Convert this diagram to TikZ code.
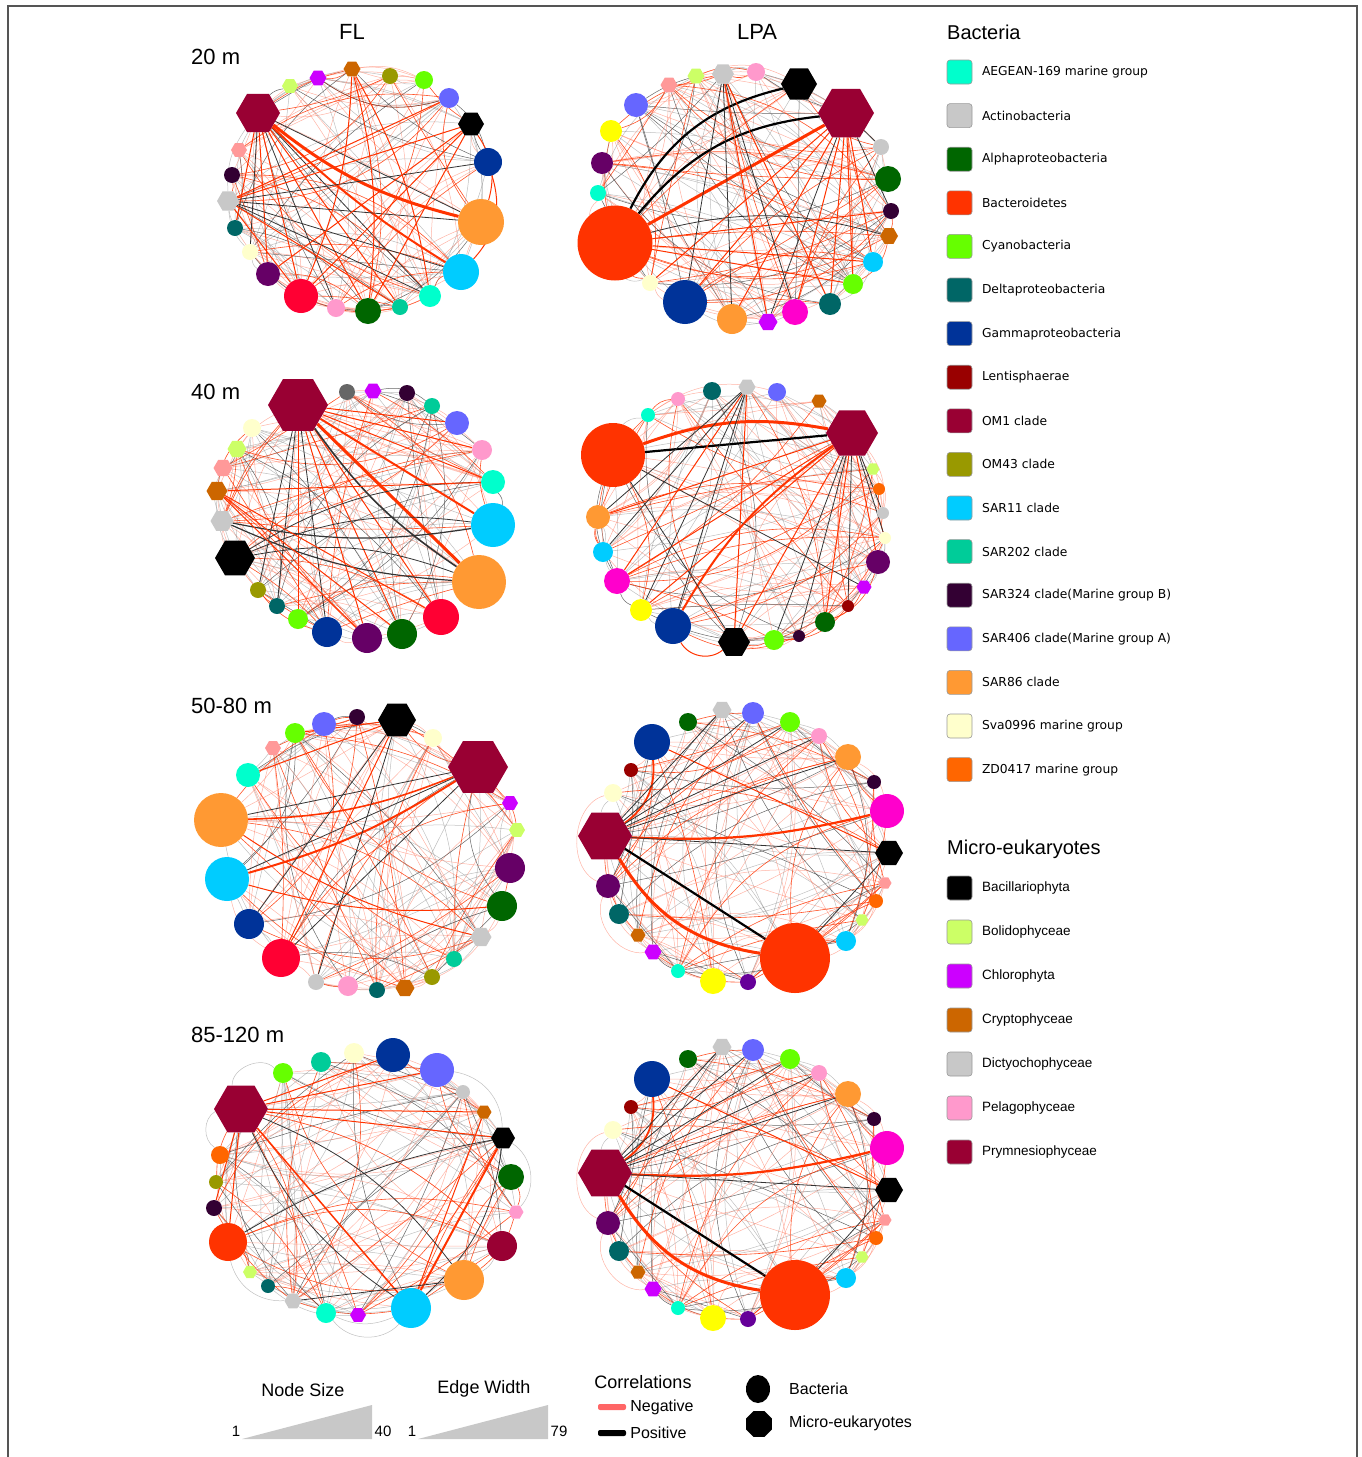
\documentclass[tikz,border=0pt]{standalone}
\usepackage{fontspec}
\setmainfont{Liberation Sans}
\newfontfamily\verdanafont{DejaVu Sans}
\usetikzlibrary{positioning}
\usetikzlibrary{shapes}

% taxon colours
\definecolor{aegean}{HTML}{00FFCC}
\definecolor{actino}{HTML}{C8C8C8}
\definecolor{alpha}{HTML}{006600}
\definecolor{bactero}{HTML}{FF3300}
\definecolor{cyano}{HTML}{66FF00}
\definecolor{delta}{HTML}{006666}
\definecolor{gamma}{HTML}{003399}
\definecolor{lentis}{HTML}{990000}
\definecolor{omone}{HTML}{990033}
\definecolor{om43}{HTML}{999900}
\definecolor{sar11}{HTML}{00CCFF}
\definecolor{sar202}{HTML}{00CC99}
\definecolor{sar324}{HTML}{330033}
\definecolor{sar406}{HTML}{6666FF}
\definecolor{sar86}{HTML}{FF9933}
\definecolor{sva}{HTML}{FFFFCC}
\definecolor{zd}{HTML}{FF6600}
\definecolor{bolido}{HTML}{CCFF66}
\definecolor{chloro}{HTML}{CC00FF}
\definecolor{crypto}{HTML}{CC6600}
\definecolor{dictyo}{HTML}{C8C8C8}
\definecolor{pelago}{HTML}{FF99CC}
\definecolor{prym}{HTML}{990033}
\definecolor{crimson}{HTML}{FF0033}
\definecolor{plum}{HTML}{660066}
\definecolor{salmon}{HTML}{FF9999}
\definecolor{magenta}{HTML}{FF00CC}
\definecolor{yellow}{HTML}{FFFF00}
\definecolor{darkgrey}{HTML}{666666}
\definecolor{violet}{HTML}{660099}
\definecolor{negline}{HTML}{FF6A4D}
\definecolor{frameline}{HTML}{555555}

\pgfdeclarelayer{edges}
\pgfsetlayers{edges,main}

\tikzset{
        % Bacteria nodes
        bact/.style={circle, inner sep=0pt, minimum size=#1},
        % Micro-eukaryote nodes
        euk/.style={regular polygon, regular polygon sides=6, inner sep=0pt, minimum size=#1},
        % Correlation edges
        negthin/.style={draw=negline, line width=0.5pt, opacity=0.5},
        posthin/.style={draw=gray, line width=0.5pt, opacity=0.5},
        neglight/.style={draw=bactero, line width=0.6pt, opacity=0.85},
        poslight/.style={draw=black!75, line width=0.5pt, opacity=0.8},
        negmid/.style={draw=bactero, line width=1pt},
        posmid/.style={draw=black!80, line width=0.8pt},
        negfat/.style={draw=bactero, line width=3pt},
        posfat/.style={draw=black, line width=2.2pt},
        % Texts
        panel_title/.style={font=\fontsize{22}{26}\selectfont, inner sep=0pt},
        legend_head/.style={font=\fontsize{20}{24}\selectfont, inner sep=0pt, anchor=west},
        legend_bact/.style={font=\verdanafont\fontsize{12.3}{14}\selectfont, inner sep=0pt},
        legend_euk/.style={font=\fontsize{13.5}{16}\selectfont, inner sep=0pt},
        legend_key/.style={font=\fontsize{18}{22}\selectfont, inner sep=0pt},
        legend_num/.style={font=\fontsize{15}{18}\selectfont, inner sep=0pt},
        swatch/.style={rectangle, rounded corners=3pt, draw=gray!80, line width=0.6pt, minimum width=25pt, minimum height=24pt, inner sep=0pt},
        corr_bar/.style={rectangle, rounded corners=2pt, minimum width=28pt, minimum height=6pt, inner sep=0pt}
}

\begin{document}
\begin{tikzpicture}[x=1pt, y=-1pt]
    \useasboundingbox (0,0) rectangle (1362,1457);
    \draw[frameline, line width=1.2pt] (8,1457) -- (8,6) -- (1357,6) -- (1357,1457);

    % column and depth titles
    \node[panel_title] (fl) at (352,32) {FL};
    \node[panel_title] (lpa) at (757,32) {LPA};
    \node[panel_title, anchor=west] (d20) at (191,57) {20 m};
    \node[panel_title, anchor=west] (d40) at (191,392) {40 m};
    \node[panel_title, anchor=west] (d50) at (191,706) {50-80 m};
    \node[panel_title, anchor=west] (d85) at (191,1035) {85-120 m};

    % 20 m FL
    \node[euk=44, fill=prym] (fa1) at (258,113) {};
    \node[euk=16, fill=bolido] (fa2) at (290,86) {};
    \node[euk=17, fill=chloro] (fa3) at (318,78) {};
    \node[euk=17, fill=crypto] (fa4) at (352,69) {};
    \node[bact=16, fill=om43] (fa5) at (390,76) {};
    \node[bact=18, fill=cyano] (fa6) at (424,80) {};
    \node[bact=20, fill=sar406] (fa7) at (449,98) {};
    \node[euk=26, fill=black] (fa8) at (471,124) {};
    \node[bact=28, fill=gamma] (fa9) at (488,162) {};
    \node[bact=46, fill=sar86] (fa10) at (481,222) {};
    \node[bact=36, fill=sar11] (fa11) at (461,272) {};
    \node[bact=22, fill=aegean] (fa12) at (430,296) {};
    \node[bact=16, fill=sar202] (fa13) at (400,307) {};
    \node[bact=26, fill=alpha] (fa14) at (368,311) {};
    \node[bact=18, fill=pelago] (fa15) at (336,308) {};
    \node[bact=34, fill=crimson] (fa16) at (301,296) {};
    \node[bact=24, fill=plum] (fa17) at (268,274) {};
    \node[bact=16, fill=sva] (fa18) at (250,252) {};
    \node[bact=16, fill=delta] (fa19) at (235,228) {};
    \node[euk=22, fill=dictyo] (fa20) at (228,201) {};
    \node[bact=16, fill=sar324] (fa21) at (232,175) {};
    \node[euk=16, fill=salmon] (fa22) at (239,150) {};

    % 20 m LPA
    \node[bact=75, fill=bactero] (la1) at (615,243) {};
    \node[bact=16, fill=aegean] (la2) at (598,193) {};
    \node[bact=22, fill=plum] (la3) at (602,163) {};
    \node[bact=22, fill=yellow] (la4) at (611,131) {};
    \node[bact=24, fill=sar406] (la5) at (636,105) {};
    \node[euk=17, fill=salmon] (la6) at (669,85) {};
    \node[euk=17, fill=bolido] (la7) at (696,76) {};
    \node[euk=22, fill=dictyo] (la8) at (723,74) {};
    \node[bact=18, fill=pelago] (la9) at (756,72) {};
    \node[euk=36, fill=black] (la10) at (799,84) {};
    \node[euk=56, fill=prym] (la11) at (846,113) {};
    \node[bact=16, fill=actino] (la12) at (881,147) {};
    \node[bact=26, fill=alpha] (la13) at (888,179) {};
    \node[bact=16, fill=sar324] (la14) at (891,211) {};
    \node[euk=18, fill=crypto] (la15) at (889,236) {};
    \node[bact=20, fill=sar11] (la16) at (873,262) {};
    \node[bact=20, fill=cyano] (la17) at (853,284) {};
    \node[bact=22, fill=delta] (la18) at (830,304) {};
    \node[bact=26, fill=magenta] (la19) at (795,312) {};
    \node[euk=19, fill=chloro] (la20) at (768,322) {};
    \node[bact=30, fill=sar86] (la21) at (732,319) {};
    \node[bact=44, fill=gamma] (la22) at (685,302) {};
    \node[bact=16, fill=sva] (la23) at (650,283) {};

    % 40 m FL
    \node[euk=60, fill=prym] (fb1) at (298,405) {};
    \node[bact=16, fill=darkgrey] (fb2) at (347,392) {};
    \node[euk=17, fill=chloro] (fb3) at (373,391) {};
    \node[bact=16, fill=sar324] (fb4) at (407,393) {};
    \node[bact=16, fill=sar202] (fb5) at (432,406) {};
    \node[bact=24, fill=sar406] (fb6) at (457,423) {};
    \node[bact=20, fill=pelago] (fb7) at (482,450) {};
    \node[bact=24, fill=aegean] (fb8) at (493,482) {};
    \node[bact=44, fill=sar11] (fb9) at (493,525) {};
    \node[bact=54, fill=sar86] (fb10) at (479,582) {};
    \node[bact=36, fill=crimson] (fb11) at (441,617) {};
    \node[bact=30, fill=alpha] (fb12) at (402,634) {};
    \node[bact=30, fill=plum] (fb13) at (367,638) {};
    \node[bact=30, fill=gamma] (fb14) at (327,632) {};
    \node[bact=20, fill=cyano] (fb15) at (298,619) {};
    \node[bact=16, fill=delta] (fb16) at (277,606) {};
    \node[bact=16, fill=om43] (fb17) at (258,590) {};
    \node[euk=40, fill=black] (fb18) at (235,558) {};
    \node[euk=23, fill=dictyo] (fb19) at (222,521) {};
    \node[euk=21, fill=crypto] (fb20) at (217,491) {};
    \node[euk=19, fill=salmon] (fb21) at (223,468) {};
    \node[euk=19, fill=bolido] (fb22) at (237,449) {};
    \node[bact=18, fill=sva] (fb23) at (252,428) {};

    % 40 m LPA
    \node[bact=64, fill=bactero] (lb1) at (613,455) {};
    \node[bact=14, fill=aegean] (lb2) at (648,415) {};
    \node[bact=14, fill=pelago] (lb3) at (678,399) {};
    \node[bact=18, fill=delta] (lb4) at (712,391) {};
    \node[euk=17, fill=dictyo] (lb5) at (747,387) {};
    \node[bact=18, fill=sar406] (lb6) at (777,392) {};
    \node[euk=15, fill=crypto] (lb7) at (819,401) {};
    \node[euk=52, fill=prym] (lb8) at (852,433) {};
    \node[euk=13, fill=bolido] (lb9) at (873,469) {};
    \node[bact=12, fill=zd] (lb10) at (879,489) {};
    \node[bact=12, fill=actino] (lb11) at (883,513) {};
    \node[bact=12, fill=sva] (lb12) at (885,538) {};
    \node[bact=24, fill=plum] (lb13) at (878,562) {};
    \node[euk=15, fill=chloro] (lb14) at (864,587) {};
    \node[bact=12, fill=lentis] (lb15) at (848,606) {};
    \node[bact=20, fill=alpha] (lb16) at (825,622) {};
    \node[bact=12, fill=sar324] (lb17) at (799,636) {};
    \node[bact=20, fill=cyano] (lb18) at (774,640) {};
    \node[euk=32, fill=black] (lb19) at (734,642) {};
    \node[bact=36, fill=gamma] (lb20) at (673,626) {};
    \node[bact=22, fill=yellow] (lb21) at (641,610) {};
    \node[bact=26, fill=magenta] (lb22) at (617,581) {};
    \node[bact=20, fill=sar11] (lb23) at (603,552) {};
    \node[bact=24, fill=sar86] (lb24) at (598,517) {};

    % 50-80 m FL
    \node[euk=38, fill=black] (fc1) at (397,720) {};
    \node[bact=18, fill=sva] (fc2) at (433,738) {};
    \node[euk=60, fill=prym] (fc3) at (478,767) {};
    \node[euk=16, fill=chloro] (fc4) at (510,803) {};
    \node[euk=16, fill=bolido] (fc5) at (517,830) {};
    \node[bact=30, fill=plum] (fc6) at (510,868) {};
    \node[bact=30, fill=alpha] (fc7) at (502,906) {};
    \node[euk=21, fill=dictyo] (fc8) at (481,937) {};
    \node[bact=16, fill=sar202] (fc9) at (454,959) {};
    \node[bact=16, fill=om43] (fc10) at (432,977) {};
    \node[euk=19, fill=crypto] (fc11) at (405,988) {};
    \node[bact=16, fill=delta] (fc12) at (377,990) {};
    \node[bact=20, fill=pelago] (fc13) at (348,986) {};
    \node[bact=16, fill=actino] (fc14) at (316,982) {};
    \node[bact=38, fill=crimson] (fc15) at (281,958) {};
    \node[bact=30, fill=gamma] (fc16) at (249,924) {};
    \node[bact=44, fill=sar11] (fc17) at (227,879) {};
    \node[bact=54, fill=sar86] (fc18) at (221,820) {};
    \node[bact=24, fill=aegean] (fc19) at (248,775) {};
    \node[euk=16, fill=salmon] (fc20) at (273,748) {};
    \node[bact=20, fill=cyano] (fc21) at (295,733) {};
    \node[bact=24, fill=sar406] (fc22) at (324,724) {};
    \node[bact=16, fill=sar324] (fc23) at (357,717) {};

    % 50-80 m and 85-120 m LPA
    \foreach \p/\dy in {lc/0, ld/337} {
        \begin{scope}[yshift=-\dy pt]
            \node[euk=54, fill=prym] (\p1) at (605,836) {};
            \node[bact=18, fill=sva] (\p2) at (613,793) {};
            \node[bact=14, fill=lentis] (\p3) at (631,770) {};
            \node[bact=36, fill=gamma] (\p4) at (652,742) {};
            \node[bact=18, fill=alpha] (\p5) at (688,722) {};
            \node[euk=19, fill=dictyo] (\p6) at (722,710) {};
            \node[bact=22, fill=sar406] (\p7) at (753,713) {};
            \node[bact=20, fill=cyano] (\p8) at (790,722) {};
            \node[bact=16, fill=pelago] (\p9) at (819,736) {};
            \node[bact=26, fill=sar86] (\p10) at (848,757) {};
            \node[bact=14, fill=sar324] (\p11) at (874,782) {};
            \node[bact=34, fill=magenta] (\p12) at (887,811) {};
            \node[euk=28, fill=black] (\p13) at (889,853) {};
            \node[euk=13, fill=salmon] (\p14) at (885,883) {};
            \node[bact=14, fill=zd] (\p15) at (876,901) {};
            \node[euk=13, fill=bolido] (\p16) at (862,920) {};
            \node[bact=20, fill=sar11] (\p17) at (846,941) {};
            \node[bact=70, fill=bactero] (\p18) at (795,958) {};
            \node[bact=16, fill=violet] (\p19) at (748,982) {};
            \node[bact=26, fill=yellow] (\p20) at (713,981) {};
            \node[bact=14, fill=aegean] (\p21) at (678,971) {};
            \node[euk=17, fill=chloro] (\p22) at (653,952) {};
            \node[euk=15, fill=crypto] (\p23) at (638,935) {};
            \node[bact=20, fill=delta] (\p24) at (619,914) {};
            \node[bact=24, fill=plum] (\p25) at (608,886) {};
        \end{scope}
    }

    % 85-120 m FL
    \node[euk=54, fill=prym] (fd1) at (241,1109) {};
    \node[bact=20, fill=cyano] (fd2) at (283,1073) {};
    \node[bact=20, fill=sar202] (fd3) at (321,1062) {};
    \node[bact=20, fill=sva] (fd4) at (354,1053) {};
    \node[bact=34, fill=gamma] (fd5) at (393,1055) {};
    \node[bact=34, fill=sar406] (fd6) at (437,1070) {};
    \node[bact=14, fill=actino] (fd7) at (463,1092) {};
    \node[euk=15, fill=crypto] (fd8) at (484,1112) {};
    \node[euk=24, fill=black] (fd9) at (503,1138) {};
    \node[bact=26, fill=alpha] (fd10) at (511,1177) {};
    \node[euk=15, fill=pelago] (fd11) at (516,1212) {};
    \node[bact=30, fill=omone] (fd12) at (502,1246) {};
    \node[bact=40, fill=sar86] (fd13) at (464,1280) {};
    \node[bact=40, fill=sar11] (fd14) at (411,1308) {};
    \node[euk=16, fill=chloro] (fd15) at (358,1315) {};
    \node[bact=20, fill=aegean] (fd16) at (326,1313) {};
    \node[euk=17, fill=dictyo] (fd17) at (293,1301) {};
    \node[bact=14, fill=delta] (fd18) at (268,1286) {};
    \node[euk=14, fill=bolido] (fd19) at (250,1272) {};
    \node[bact=38, fill=bactero] (fd20) at (228,1242) {};
    \node[bact=16, fill=sar324] (fd21) at (214,1208) {};
    \node[bact=14, fill=om43] (fd22) at (216,1182) {};
    \node[bact=18, fill=zd] (fd23) at (220,1155) {};

    \begin{pgfonlayer}{edges}
        % background correlations
        \foreach \p/\N/\s in {fa/22/3, la/23/5, fb/23/7, lb/24/9, fc/23/11, lc/25/13, ld/25/13, fd/23/17} {
            \pgfmathsetseed{\s}
            \foreach \i in {1,...,\N} \foreach \k in {1,...,7} {
                \pgfmathrandominteger{\rj}{1}{\N}
                \pgfmathrandominteger{\rc}{0}{9}
                \pgfmathrandominteger{\rb}{-25}{25}
                \ifnum\rj=\i\relax\else
                    \ifcase\rc
                        \draw[negthin] (\p\i) to[bend left=\rb] (\p\rj);
                    \or \draw[negthin] (\p\i) to[bend left=\rb] (\p\rj);
                    \or \draw[negthin] (\p\i) to[bend left=\rb] (\p\rj);
                    \or \draw[negthin] (\p\i) to[bend left=\rb] (\p\rj);
                    \or \draw[posthin] (\p\i) to[bend left=\rb] (\p\rj);
                    \or \draw[posthin] (\p\i) to[bend left=\rb] (\p\rj);
                    \or \draw[posthin] (\p\i) to[bend left=\rb] (\p\rj);
                    \or \draw[neglight] (\p\i) to[bend left=\rb] (\p\rj);
                    \or \draw[neglight] (\p\i) to[bend left=\rb] (\p\rj);
                    \else \draw[poslight] (\p\i) to[bend left=\rb] (\p\rj);
                    \fi
                \fi
            }
        }

        % 20 m FL
        \foreach \t in {13,14,16,19,17} \draw[negmid] (fa1) -- (fa\t);
        \foreach \t in {12,15,18} \draw[posmid] (fa1) -- (fa\t);
        \draw[negfat] (fa1) to[bend right=12] (fa10);
        \draw[posmid] (fa1) -- (fa10);
        \draw[negfat, line width=2pt] (fa1) to[bend right=6] (fa11);
        \foreach \t in {9,10,11,12} \draw[posmid] (fa20) -- (fa\t);
        \foreach \t in {7,13,16} \draw[negmid] (fa20) -- (fa\t);
        \foreach \t in {14,16,17,20} \draw[negmid] (fa8) -- (fa\t);
        \foreach \t in {12,14,16} \draw[negmid] (fa4) to[bend left=10] (fa\t);
        \draw[negmid] (fa8) to[bend left=25] (fa10);
        \draw[negmid] (fa9) to[bend left=30] (fa11);

        % 20 m LPA
        \draw[negfat] (la1) -- (la11);
        \draw[posfat] (la1) to[bend left=25] (la10);
        \draw[posfat] (la1) to[bend left=22] (la11);
        \foreach \t in {16,17,18,19,21,22,23} \draw[negmid] (la11) -- (la\t);
        \foreach \t in {12,14,20} \draw[posmid] (la11) -- (la\t);
        \draw[posmid] (la1) to[bend left=15] (la15);
        \foreach \t in {14,16,17} \draw[negmid] (la1) -- (la\t);
        \foreach \t in {19,21,22} \draw[posmid] (la8) -- (la\t);
        \foreach \t in {18,20} \draw[negmid] (la8) -- (la\t);

        % 40 m FL
        \draw[negfat] (fb1) -- (fb10);
        \draw[negfat, line width=2pt] (fb1) -- (fb9);
        \foreach \t in {6,7,8,11,12,13,15} \draw[negmid] (fb1) -- (fb\t);
        \foreach \t in {14,16,17} \draw[posmid] (fb1) -- (fb\t);
        \draw[posmid, line width=1.6pt] (fb1) to[bend right=10] (fb10);
        \foreach \t in {9,10} \draw[posmid, line width=1.2pt] (fb19) to[bend right=10] (fb\t);
        \foreach \t in {8,9,10} \draw[posmid] (fb18) to[bend left=15] (fb\t);
        \foreach \t in {8,11,12,13} \draw[negmid] (fb20) -- (fb\t);

        % 40 m LPA
        \draw[negfat] (lb1) to[bend left=15] (lb8);
        \draw[posfat] (lb1) -- (lb8);
        \draw[negfat, line width=2pt] (lb20) to[bend left=12] (lb8);
        \draw[posmid] (lb1) -- (lb19);
        \draw[posmid] (lb1) -- (lb14);
        \draw[negmid] (lb20) to[bend right=50] (lb19);
        \foreach \t in {13,16,19,21,22,24} \draw[negmid] (lb8) -- (lb\t);
        \foreach \t in {11,12,15,17,18} \draw[posmid] (lb8) -- (lb\t);
        \foreach \t in {20,21,23,24} \draw[posmid] (lb5) -- (lb\t);
        \foreach \t in {19,22} \draw[negmid] (lb5) -- (lb\t);

        % 50-80 m FL
        \draw[negmid, line width=2pt] (fc3) to[bend left=8] (fc17);
        \draw[negmid, line width=1.6pt] (fc3) to[bend left=10] (fc18);
        \foreach \t in {15,17,18} \draw[posmid] (fc3) -- (fc\t);
        \foreach \t in {14,16} \draw[posmid] (fc1) -- (fc\t);
        \foreach \t in {15,19,21} \draw[negmid] (fc1) -- (fc\t);
        \draw[negmid] (fc18) to[bend right=10] (fc8);
        \draw[negmid] (fc17) to[bend right=10] (fc7);

        % 50-80 m and 85-120 m LPA
        \foreach \p in {lc,ld} {
            \draw[negfat] (\p1) to[bend right=25] (\p18);
            \draw[posfat] (\p1) -- (\p18);
            \draw[negmid, line width=2.2pt] (\p1) to[bend right=8] (\p12);
            \draw[negmid, line width=1.8pt] (\p1) to[bend right=30] (\p4);
            \draw[negmid] (\p4) -- (\p13);
            \foreach \t in {6,7,8,9,10,13} \draw[posmid] (\p1) -- (\p\t);
            \draw[posmid] (\p18) -- (\p13);
            \draw[negthin] (\p2) to[bend right=70] (\p25);
            \draw[negthin] (\p25) to[bend right=60] (\p22);
            \draw[negthin] (\p18) to[bend right=50] (\p20);
        }

        % 85-120 m FL
        \draw[negmid, line width=1.5pt] (fd1) -- (fd14);
        \draw[negmid, line width=2pt] (fd9) -- (fd14);
        \draw[negmid] (fd8) -- (fd14);
        \draw[posmid] (fd1) to[bend left=15] (fd13);
        \draw[posmid] (fd1) to[bend right=15] (fd14);
        \draw[posmid] (fd9) to[bend right=10] (fd20);
        \draw[posmid] (fd17) -- (fd13);
        \draw[posmid] (fd9) to[bend left=20] (fd14);
        \foreach \t in {5,6,8,9,20,21} \draw[negmid] (fd1) -- (fd\t);
        \draw[posthin] (fd1) to[bend right=60] (fd23);
        \draw[posthin] (fd2) to[bend right=70] (fd1);
        \draw[posthin] (fd6) to[bend left=40] (fd9);
        \draw[posthin] (fd9) to[bend left=50] (fd11);
        \draw[posthin] (fd14) to[bend left=50] (fd16);
        \draw[posthin] (fd20) to[bend right=40] (fd17);
    \end{pgfonlayer}

    % legend: bacteria
    \node[legend_head] (bact_head) at (947,32) {Bacteria};
    \foreach \col/\name [count=\n from 0] in {aegean/AEGEAN-169 marine group, actino/Actinobacteria, alpha/Alphaproteobacteria, bactero/Bacteroidetes, cyano/Cyanobacteria, delta/Deltaproteobacteria, gamma/Gammaproteobacteria, lentis/Lentisphaerae, omone/OM1 clade, om43/OM43 clade, sar11/SAR11 clade, sar202/SAR202 clade, sar324/SAR324 clade(Marine group B), sar406/SAR406 clade(Marine group A), sar86/SAR86 clade, sva/Sva0996 marine group, zd/ZD0417 marine group} {
        \node[swatch, fill=\col] (bsw\n) at (959.5,72+43.6*\n) {};
        \node[legend_bact, right=9.5pt of bsw\n] (btx\n) {\name};
    }

    % legend: micro-eukaryotes
    \node[legend_head] (euk_head) at (947,849) {Micro-eukaryotes};
    \foreach \col/\name [count=\n from 0] in {black/Bacillariophyta, bolido/Bolidophyceae, chloro/Chlorophyta, crypto/Cryptophyceae, dictyo/Dictyochophyceae, pelago/Pelagophyceae, prym/Prymnesiophyceae} {
        \node[swatch, fill=\col] (esw\n) at (959.5,888+44*\n) {};
        \node[legend_euk, right=9.5pt of esw\n] (etx\n) {\name};
    }

    % legend: sizes
    \node[legend_key] (node_size) at (303,1390) {Node Size};
    \fill[actino] (242,1439) -- (372,1439) -- (372,1405) -- cycle;
    \node[legend_num] (ns_min) at (236,1431) {1};
    \node[legend_num] (ns_max) at (383,1431) {40};
    \node[legend_key] (edge_width) at (484,1389) {Edge Width};
    \fill[actino] (418,1439) -- (548,1439) -- (548,1405) -- cycle;
    \node[legend_num] (ew_min) at (412,1431) {1};
    \node[legend_num] (ew_max) at (559,1431) {79};

    % legend: correlations
    \node[legend_key] (corr) at (643,1382) {Correlations};
    \node[corr_bar, fill={rgb,255:red,255;green,102;blue,102}] (neg_bar) at (612,1407) {};
    \node[legend_key, font=\fontsize{16}{19}\selectfont, right=4pt of neg_bar] (neg_txt) {Negative};
    \node[corr_bar, fill=black] (pos_bar) at (612,1433) {};
    \node[legend_key, font=\fontsize{16}{19}\selectfont, right=4pt of pos_bar] (pos_txt) {Positive};

    % legend: shapes
    \node[ellipse, fill=black, minimum width=24pt, minimum height=28pt, inner sep=0pt] (bact_sym) at (758,1389) {};
    \node[legend_key, font=\fontsize{16}{19}\selectfont, anchor=west] (bact_txt) at (789,1389) {Bacteria};
    \node[regular polygon, regular polygon sides=8, fill=black, minimum size=28pt, inner sep=0pt] (euk_sym) at (759,1424) {};
    \node[legend_key, font=\fontsize{16}{19}\selectfont, anchor=west] (euk_txt) at (789,1423) {Micro-eukaryotes};
\end{tikzpicture}
\end{document}
